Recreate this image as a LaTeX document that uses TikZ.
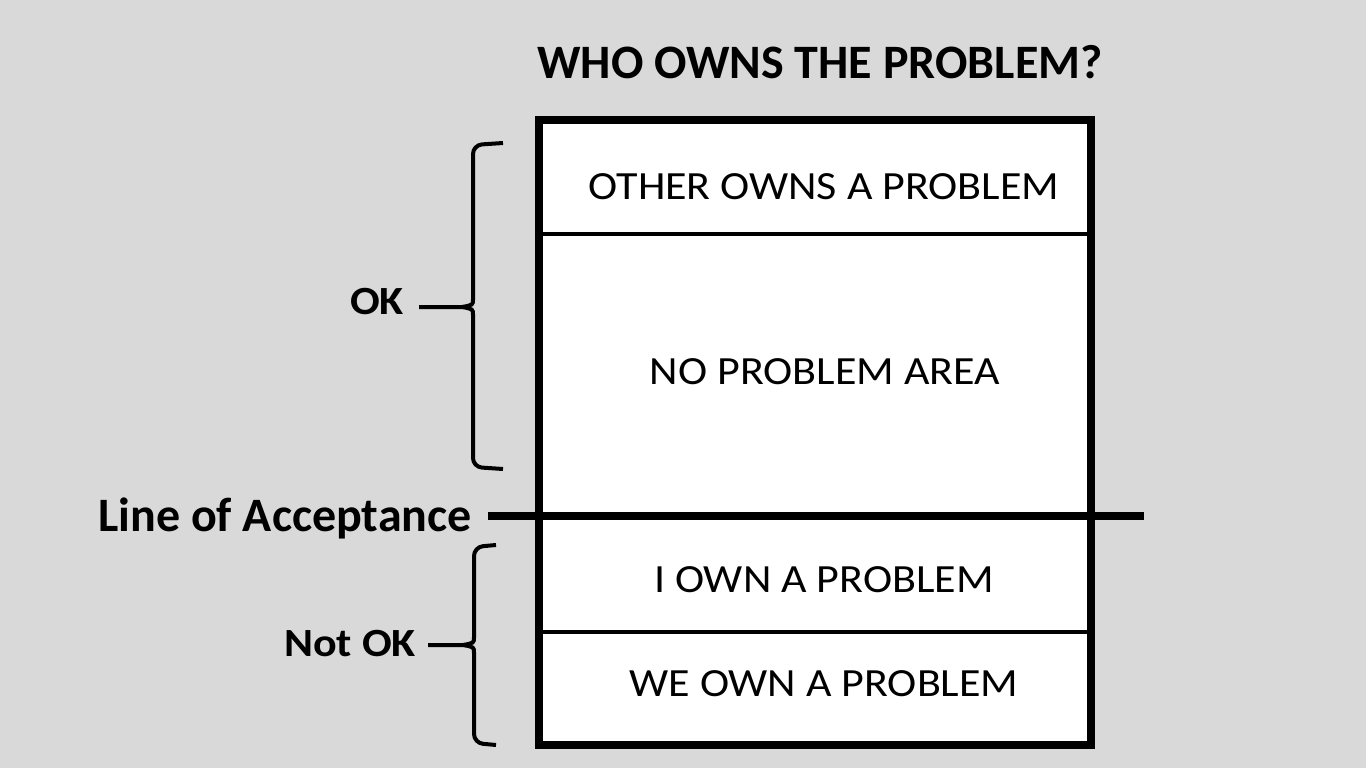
\documentclass[tikz,border=0pt]{standalone}
\usepackage{fontspec}
\setmainfont{Carlito}
\begin{document}
\begin{tikzpicture}[x=1pt,y=-1pt,
  body/.style={font=\fontsize{40}{44}\selectfont, inner sep=0pt, xscale=1.1},
  lbl/.style={font=\bfseries\fontsize{40}{44}\selectfont, inner sep=0pt, xscale=1.1},
  big/.style={font=\bfseries\fontsize{48}{52}\selectfont, inner sep=0pt},
  thick line/.style={line width=8pt},
  thin line/.style={line width=4pt},
  brace/.style={line width=4pt, rounded corners=9pt}]
\useasboundingbox[fill={rgb,255:red,217;green,217;blue,217}] (0,0) rectangle (1366,768);
% box
\node[draw, fill=white, line width=8pt, minimum width=552pt, minimum height=625pt, inner sep=0pt, outer sep=0pt, anchor=north west] (box) at (539,120) {};
\coordinate (d1l) at (539,234); \coordinate (d1r) at (1091,234);
\coordinate (d2l) at (539,632); \coordinate (d2r) at (1091,632);
\draw[thin line] (d1l) -- (d1r);
\draw[thin line] (d2l) -- (d2r);
% line of acceptance
\coordinate (la1) at (488,516); \coordinate (la2) at (1144,516);
\draw[thick line] (la1) -- (la2);
% texts
\node[big] (title) at (820,62) {WHO OWNS THE PROBLEM?};
\node[body] (other) at (824,187) {OTHER OWNS A PROBLEM};
\node[body] (noprob) at (825,372) {NO PROBLEM AREA};
\node[body] (iown) at (824,580) {I OWN A PROBLEM};
\node[body] (weown) at (824,684) {WE OWN A PROBLEM};
\node[lbl] (ok) at (377,302) {OK};
\node[lbl] (notok) at (350,644) {Not OK};
\node[big, anchor=east] (loa) at (472,518) {Line of Acceptance};
% OK brace
\coordinate (okt) at (503,143); \coordinate (okb) at (503,469); \coordinate (okm) at (419,307);
\draw[brace] (okt) -- (473,145) -- (473,300);
\draw[brace] (okb) -- (473,467) -- (473,314);
\draw[line width=4pt] (473,299) .. controls (473,305) .. (462,307) -- (okm);
\draw[line width=4pt] (473,315) .. controls (473,309) .. (462,307);
% Not OK brace
\coordinate (nt) at (496,545); \coordinate (nb) at (496,745); \coordinate (nm) at (428,645);
\draw[brace] (nt) -- (474,547) -- (474,638);
\draw[brace] (nb) -- (474,743) -- (474,652);
\draw[line width=4pt] (474,637) .. controls (474,643) .. (463,645) -- (nm);
\draw[line width=4pt] (474,653) .. controls (474,647) .. (463,645);
\end{tikzpicture}
\end{document}
